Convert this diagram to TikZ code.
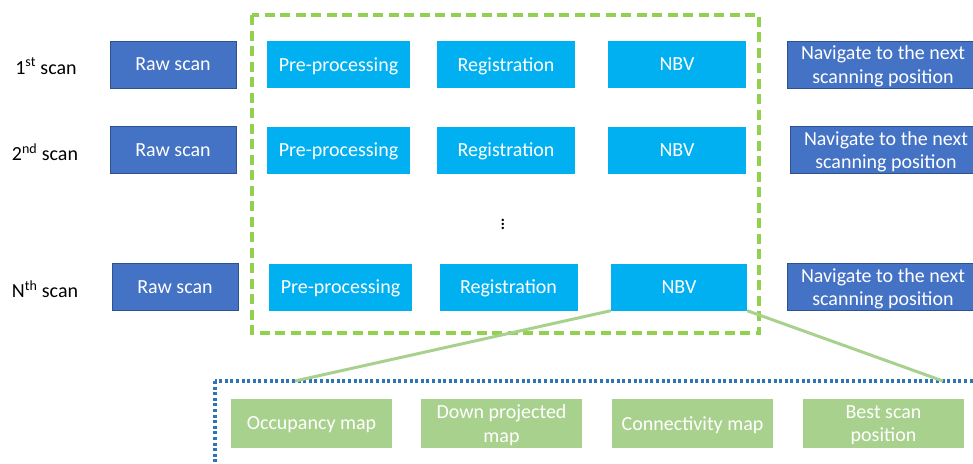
\documentclass[tikz,border=0pt]{standalone}
\usepackage{fontspec}
\setmainfont{Carlito}
\definecolor{rawblue}{HTML}{4472C4}
\definecolor{rawedge}{HTML}{2F528F}
\definecolor{procblue}{HTML}{00B0F0}
\definecolor{subgreen}{HTML}{A9D18E}
\definecolor{boxgreen}{HTML}{92D050}
\definecolor{dotblue}{HTML}{2E75B6}
\tikzset{
  rawbox/.style={draw=rawedge, line width=1pt, fill=rawblue, text=white, minimum width=126pt, minimum height=47pt, inner sep=0pt, text depth=0pt},
  procbox/.style={fill=procblue, text=white, minimum height=47pt, inner sep=0pt, text depth=0pt},
  navbox/.style={draw=rawedge, line width=1pt, fill=rawblue, text=white, minimum width=192pt, minimum height=47pt, inner sep=0pt, align=center, text depth=0pt},
  subbox/.style={fill=subgreen, text=white, minimum width=161pt, minimum height=49pt, inner sep=0pt, align=center, text depth=0pt},
  rowlabel/.style={inner sep=0pt}
}
\begin{document}
\begin{tikzpicture}[x=1pt,y=-1pt,font=\fontsize{20}{23.5}\selectfont]
\useasboundingbox (0,0) rectangle (973,463);
\clip (0,0) rectangle (973,463);

\draw[boxgreen, line width=3.4pt, dash pattern=on 10pt off 5.5pt] (252,15) rectangle (759,333);
\draw[dotblue, line width=3.2pt, dash pattern=on 3pt off 2.6pt] (215,381) rectangle (1000,490);

\node[rowlabel] (l1) at (46,66) {1\textsuperscript{st} scan};
\node[rowlabel] (l2) at (45,152) {2\textsuperscript{nd} scan};
\node[rowlabel] (l3) at (45,289) {N\textsuperscript{th} scan};

\node[rawbox] (raw1) at (173,64.5) {Raw scan};
\node[rawbox] (raw2) at (173,150) {Raw scan};
\node[rawbox] (raw3) at (175,287) {Raw scan};

\node[procbox, minimum width=143pt] (pre1) at (338.5,64.5) {Pre-processing};
\node[procbox, minimum width=143pt] (pre2) at (338.5,150) {Pre-processing};
\node[procbox, minimum width=143pt] (pre3) at (340.5,287) {Pre-processing};

\node[procbox, minimum width=138pt] (reg1) at (506,64.5) {Registration};
\node[procbox, minimum width=138pt] (reg2) at (506,150) {Registration};
\node[procbox, minimum width=138pt] (reg3) at (508.5,287) {Registration};

\node[procbox, minimum width=138pt] (nbv1) at (677,64.5) {NBV};
\node[procbox, minimum width=138pt] (nbv2) at (677,150) {NBV};
\node[procbox, minimum width=136pt] (nbv3) at (679,287) {NBV};

\node (dots) at (503,221) {$\vdots$};

\node[navbox] (nav1) at (883,64.5) {Navigate to the next\\scanning position};
\node[navbox] (nav2) at (886,150) {Navigate to the next\\scanning position};
\node[navbox] (nav3) at (883,287) {Navigate to the next\\scanning position};

\node[subbox] (occ) at (311.5,423.5) {Occupancy map};
\node[subbox] (down) at (501.5,423.5) {Down projected\\map};
\node[subbox] (conn) at (692.5,423.5) {Connectivity map};
\node[subbox] (best) at (883.5,423.5) {Best scan\\position};

\coordinate (zl) at (295,381);
\coordinate (zr) at (943,381);
\draw[subgreen, line width=3pt] (nbv3.south west) -- (zl);
\draw[subgreen, line width=3pt] (nbv3.south east) -- (zr);
\end{tikzpicture}
\end{document}
